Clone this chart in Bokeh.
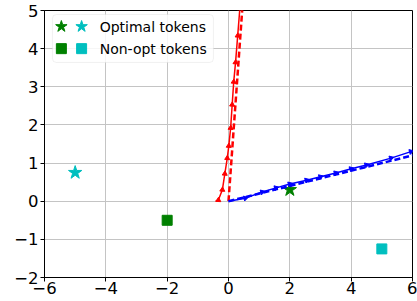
from bokeh.plotting import figure
from bokeh.models import Range1d, FixedTicker, BoxAnnotation
from bokeh.core.properties import value
from bokeh.embed import file_html
from bokeh.resources import INLINE

# ---- data ----
red_x = [-0.42, -0.33, -0.20, -0.12, -0.04, 0.01, 0.07, 0.12, 0.17, 0.23, 0.30, 0.37, 0.42]
red_y = [0.00, 0.03, 0.30, 0.72, 1.13, 1.45, 1.92, 2.53, 3.13, 3.64, 4.34, 5.05, 5.60]
red_dash_x = [0.0, 0.50]
red_dash_y = [0.0, 5.60]

blue_x = [0.0, 0.55, 1.10, 1.55, 2.00, 2.55, 3.00, 3.50, 4.00, 4.50, 5.30, 5.95, 6.30]
blue_y = [0.0, 0.08, 0.24, 0.35, 0.45, 0.55, 0.64, 0.74, 0.85, 0.95, 1.13, 1.30, 1.37]
blue_dash_x = [0.0, 6.5]
blue_dash_y = [0.0, 1.30]

opt_x = [2.0, -5.0]
opt_y = [0.30, 0.75]
opt_colors = ["#008000", "#00bfbf"]
nonopt_x = [-2.0, 5.0]
nonopt_y = [-0.50, -1.25]
nonopt_colors = ["#008000", "#00bfbf"]

legend_labels = ["Optimal tokens", "Non-opt tokens"]
x_ticks = [-6, -4, -2, 0, 2, 4, 6]
x_tick_labels = ["\u22126", "\u22124", "\u22122", "0", "2", "4", "6"]
y_ticks = [-2, -1, 0, 1, 2, 3, 4, 5]
y_tick_labels = ["\u22122", "\u22121", "0", "1", "2", "3", "4", "5"]

FONT = "DejaVu Sans"

p = figure(width=417, height=301, output_backend="svg", toolbar_location=None,
           x_range=Range1d(-6, 6), y_range=Range1d(-2, 5),
           min_border_left=44, min_border_right=5, min_border_top=10, min_border_bottom=24)
p.background_fill_color = "white"
p.border_fill_color = "white"
p.outline_line_color = "black"
p.outline_line_width = 1

for ax, ticks, labels in ((p.xaxis, x_ticks, x_tick_labels), (p.yaxis, y_ticks, y_tick_labels)):
    ax.ticker = FixedTicker(ticks=ticks)
    ax.major_label_overrides = {t: l for t, l in zip(ticks, labels)}
    ax.major_label_text_font = FONT
    ax.major_label_text_font_size = "16.5px"
    ax.major_label_text_color = "black"
    ax.axis_line_color = "black"
    ax.major_tick_line_color = "black"
    ax.major_tick_in = 0
    ax.major_tick_out = 4
    ax.minor_tick_line_color = None
p.xaxis.major_label_standoff = 0
p.yaxis.major_label_standoff = 2

p.grid.grid_line_color = "#c4c4c4"
p.grid.grid_line_width = 1
p.xgrid.ticker = FixedTicker(ticks=x_ticks)
p.ygrid.ticker = FixedTicker(ticks=y_ticks)

# tokens (drawn beneath trajectories)
p.scatter(opt_x, opt_y, marker="star", size=14, fill_color=opt_colors, line_color=opt_colors)
p.scatter(nonopt_x, nonopt_y, marker="square", size=10, fill_color=nonopt_colors, line_color=nonopt_colors)

# red trajectory
p.line(red_x, red_y, line_color="#ff0000", line_width=1.5)
p.scatter(red_x[1:], red_y[1:], marker="triangle", size=5, angle=-0.06,
          fill_color="#ff0000", line_color="#ff0000")
p.line(red_dash_x, red_dash_y, line_color="#ff0000", line_width=2.5, line_dash="6 3")

# blue trajectory
p.line(blue_x, blue_y, line_color="#0000ff", line_width=1.5)
p.scatter(blue_x[1:], blue_y[1:], marker="triangle", size=5, angle=-1.57 + 0.27,
          fill_color="#0000ff", line_color="#0000ff")
p.line(blue_dash_x, blue_dash_y, line_color="#0000ff", line_width=2.5, line_dash="6 3")

# ---- legend (manual, matplotlib-like) ----
box = BoxAnnotation(left=-5.74, right=-0.49, top=4.895, bottom=3.637,
                    fill_color="white", fill_alpha=0.85,
                    line_color="#d0d0d0", line_width=1, border_radius=4)
p.add_layout(box)
leg_rows_y = [4.58, 4.0]
leg_mark_x = [-5.45, -4.79]
p.scatter([leg_mark_x[0], leg_mark_x[1]], [leg_rows_y[0]] * 2, marker="star", size=12,
          fill_color=opt_colors, line_color=opt_colors, level="overlay")
p.scatter([leg_mark_x[0], leg_mark_x[1]], [leg_rows_y[1]] * 2, marker="square", size=10,
          fill_color=nonopt_colors, line_color=nonopt_colors, level="overlay")
p.text([-4.2, -4.2], leg_rows_y, text=legend_labels, text_font=value(FONT),
       text_font_size="14px", text_baseline="middle", text_align="left",
       text_color="black", level="overlay")

open("out.html", "w").write(file_html(p, INLINE))
